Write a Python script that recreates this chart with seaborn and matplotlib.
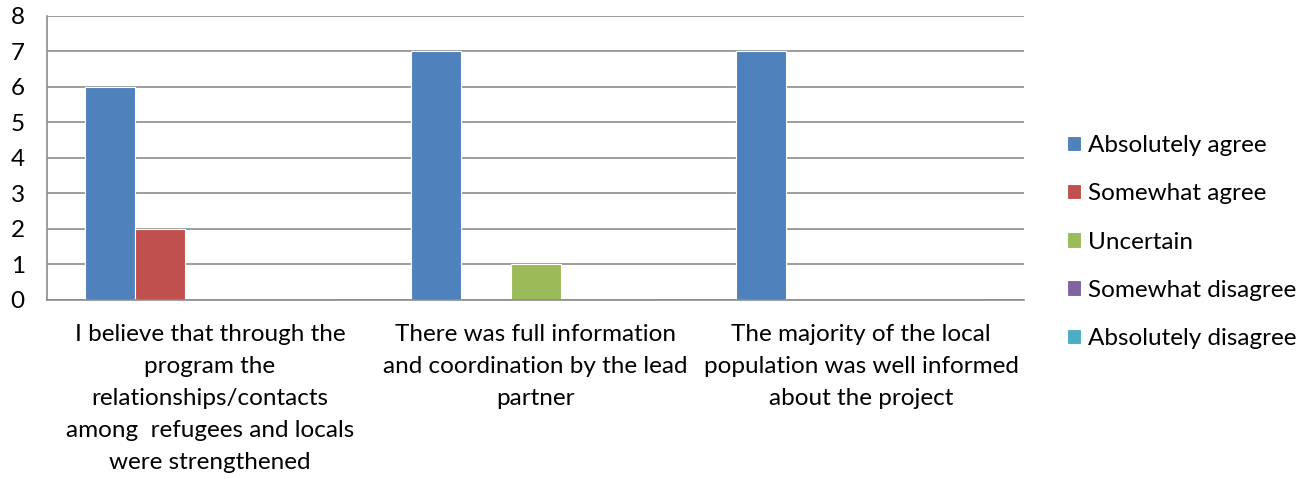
import pandas as pd
import matplotlib.pyplot as plt
import seaborn as sns

# Survey data
statements = [
    "I believe that through the\nprogram the\nrelationships/contacts\namong  refugees and locals\nwere strengthened",
    "There was full information\nand coordination by the lead\npartner",
    "The majority of the local\npopulation was well informed\nabout the project",
]
responses = ["Absolutely agree", "Somewhat agree", "Uncertain",
             "Somewhat disagree", "Absolutely disagree"]
absolutely_agree = [6, 7, 7]
somewhat_agree = [2, 0, 0]
uncertain = [0, 1, 0]
somewhat_disagree = [0, 0, 0]
absolutely_disagree = [0, 0, 0]

colors = ["#4F81BD", "#C0504D", "#9BBB59", "#8064A2", "#4BACC6"]

series = [absolutely_agree, somewhat_agree, uncertain, somewhat_disagree, absolutely_disagree]
rows = []
for resp, vals in zip(responses, series):
    for st, v in zip(statements, vals):
        rows.append({"Statement": st, "Response": resp, "Count": v})
df = pd.DataFrame(rows)

sns.set_style("white")
plt.rcParams['font.family'] = ['Lato', 'DejaVu Sans']
plt.rcParams['text.color'] = 'black'
plt.rcParams['xtick.labelcolor'] = 'black'
plt.rcParams['ytick.labelcolor'] = 'black'
fs = 17.5

fig = plt.figure(figsize=(13.16, 4.79), dpi=100)
ax = fig.add_axes([0.0357, 0.3737, 0.7425, 0.593])

sns.barplot(data=df, x="Statement", y="Count", hue="Response",
            hue_order=responses, order=statements, palette=colors,
            saturation=1, width=0.767, edgecolor="white", linewidth=0.8, ax=ax)

grid_c = "#8c8c8c"
ax.set_ylim(0, 8)
ax.set_xlim(-0.5, 2.5)
ax.set_yticks(range(0, 9))
ax.yaxis.grid(True, color=grid_c, linewidth=1.2)
ax.set_axisbelow(True)
for s in ["top", "right"]:
    ax.spines[s].set_visible(False)
for s in ["left", "bottom"]:
    ax.spines[s].set_color(grid_c)
    ax.spines[s].set_linewidth(1.2)

ax.set_xlabel("")
ax.set_ylabel("")
ax.tick_params(axis="y", length=8, color=grid_c, width=1.2, labelsize=fs, pad=8)
ax.tick_params(axis="x", which="major", length=0, labelsize=fs, pad=17)
ax.set_xticks([-0.5, 0.5, 1.5, 2.5], minor=True)
ax.tick_params(axis="x", which="minor", length=8, color=grid_c, width=1.2)
for lbl in ax.get_xticklabels():
    lbl.set_linespacing(1.65)
    lbl.set_ha("center")

ax.legend(loc="center left", bbox_to_anchor=(1.031, 0.204), frameon=False,
          fontsize=fs, handlelength=0.6, handleheight=0.6,
          handletextpad=0.3, labelspacing=1.12, borderpad=0)

fig.savefig("out.png", dpi=100)
